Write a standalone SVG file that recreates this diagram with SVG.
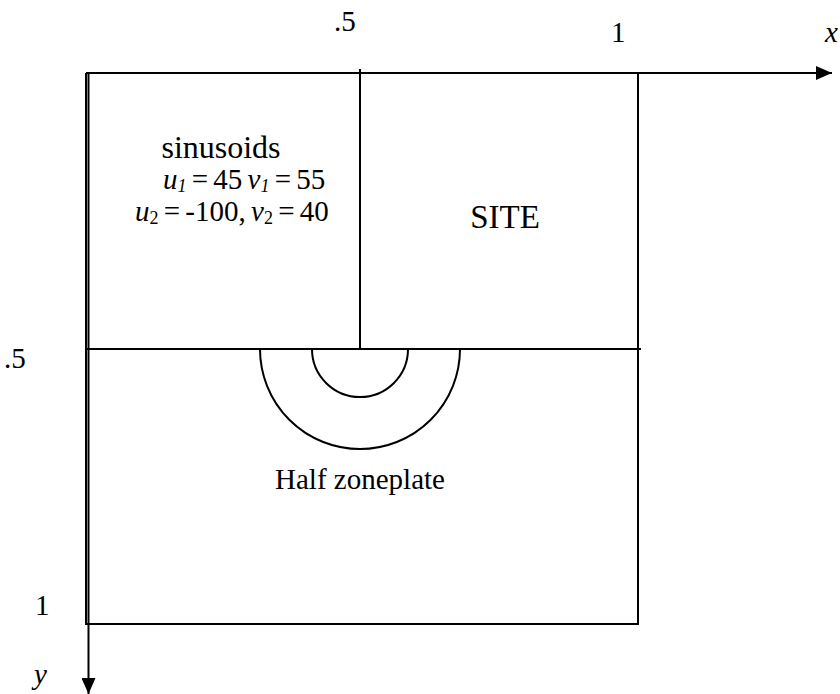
<svg xmlns="http://www.w3.org/2000/svg" width="840" height="694" viewBox="0 0 840 694">
<style>
.ln{stroke:#000;stroke-width:2;fill:none}
text,tspan{font-family:"Liberation Serif","Times New Roman",serif;fill:#000}
.t{font-size:29px}
.i{font-style:italic}
.sub{font-size:18px}
.eq{font-size:29px;word-spacing:-2px}
</style>
<defs>
<marker id="ah" viewBox="0 0 16 14" refX="16" refY="7" markerWidth="16" markerHeight="14" markerUnits="userSpaceOnUse" orient="auto">
<path d="M0,0 L16,7 L0,14 Z" fill="#000"/>
</marker>
</defs>
<rect width="840" height="694" fill="#fff"/>
<g id="connectors">
<line class="ln" x1="86" y1="73" x2="832" y2="73" marker-end="url(#ah)"/>
<line class="ln" x1="88.5" y1="73" x2="88.5" y2="694" marker-end="url(#ah)"/>
<line class="ln" x1="86" y1="73" x2="86" y2="625"/>
</g>
<g id="frame">
<line class="ln" x1="638" y1="73" x2="638" y2="625"/>
<line class="ln" x1="86" y1="624" x2="638" y2="624"/>
<line class="ln" x1="360" y1="69" x2="360" y2="349"/>
<line class="ln" x1="86" y1="349" x2="641" y2="349"/>
</g>
<g id="zoneplate">
<path class="ln" d="M312,349 A48,48 0 0 0 408,349"/>
<path class="ln" d="M260,349 A100,100 0 0 0 460,349"/>
</g>
<g id="axis-labels">
<text class="t" x="334" y="31">.5</text>
<text class="t" x="611" y="42">1</text>
<text class="t i" x="825" y="42">x</text>
<text class="t" x="4" y="368">.5</text>
<text class="t" x="35" y="615">1</text>
<text class="t i" x="34" y="684">y</text>
</g>
<g id="sinusoids">
<text x="221" y="158" text-anchor="middle" style="font-size:32px">sinusoids</text>
<text class="eq" x="163" y="189"><tspan class="i">u</tspan><tspan class="sub i" dy="3">1</tspan><tspan dy="-3"> = 45 </tspan><tspan class="i">v</tspan><tspan class="sub i" dy="3">1</tspan><tspan dy="-3"> = 55</tspan></text>
<text class="eq" x="135" y="221"><tspan class="i">u</tspan><tspan class="sub" dy="3">2</tspan><tspan dy="-3"> = -100, </tspan><tspan class="i">v</tspan><tspan class="sub" dy="3">2</tspan><tspan dy="-3"> = 40</tspan></text>
</g>
<g id="site">
<text x="505" y="228" text-anchor="middle" style="font-size:33px">SITE</text>
</g>
<g id="half-zoneplate">
<text x="360" y="489" text-anchor="middle" style="font-size:29px">Half zoneplate</text>
</g>
</svg>
